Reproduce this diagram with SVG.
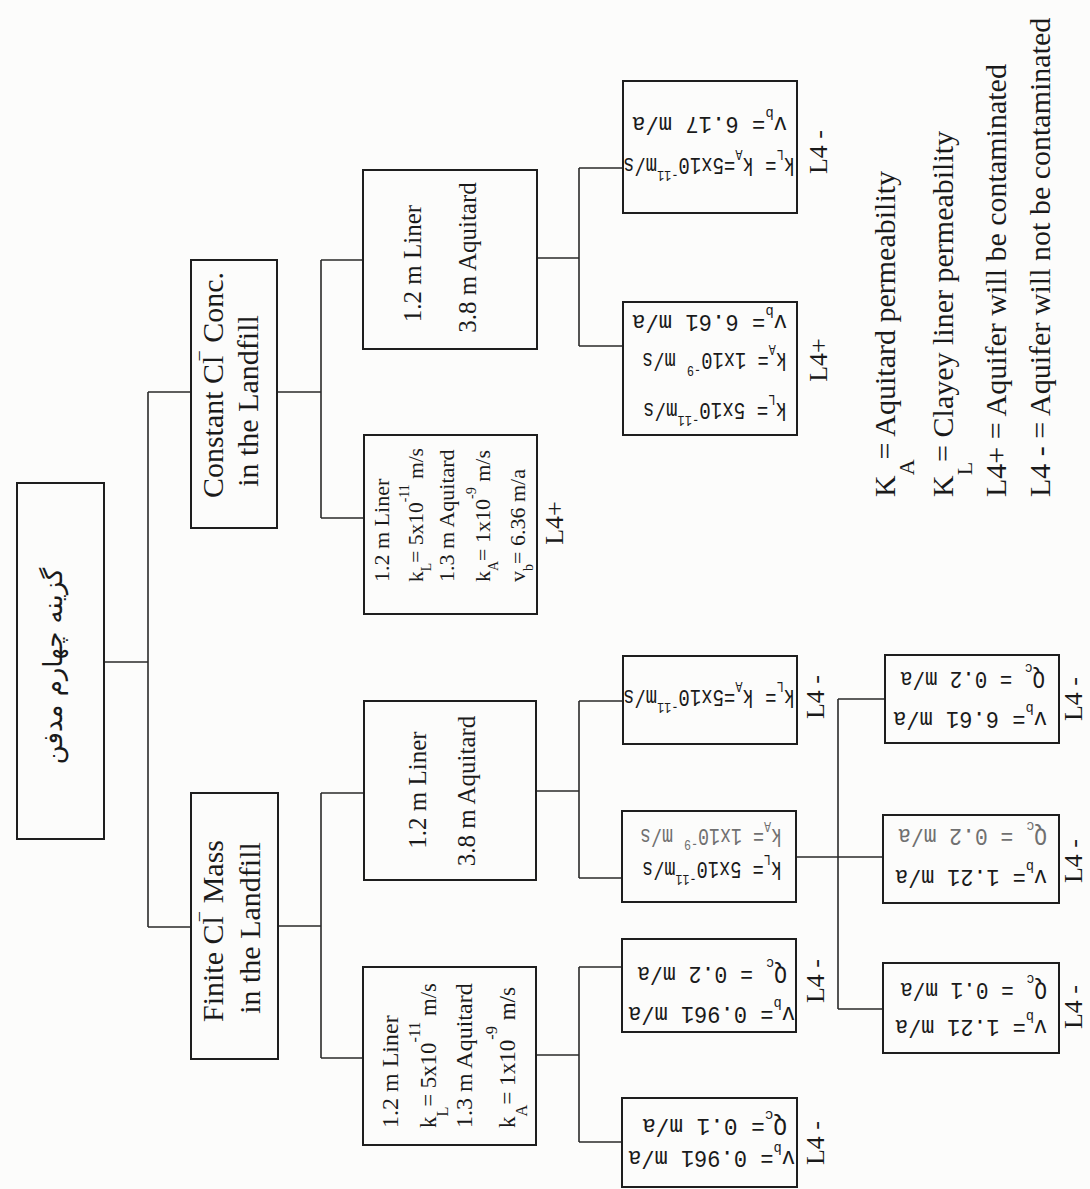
<svg xmlns="http://www.w3.org/2000/svg" width="1090" height="1189" viewBox="0 0 1090 1189">
<style>
.bg{fill:#fcfcfb}
.box{fill:none;stroke:#1e1e1e;stroke-width:2}
.ln{fill:none;stroke:#2a2a2a;stroke-width:1.6}
.t{font-family:"Liberation Serif","DejaVu Serif",serif;fill:#1a1a1a}
.m{font-family:"Liberation Mono","DejaVu Sans Mono",monospace;font-size:24px;fill:#1a1a1a}
.s{font-size:15px}
.f30{font-size:30px}
.f25{font-size:25px}
.f24{font-size:24px}
.f22{font-size:22px}
.lab{font-size:26px}
.fa{font-family:"DejaVu Sans","Noto Sans",sans-serif;font-size:26px;fill:#1a1a1a}
.faint{fill:#707070}
</style>
<rect class="bg" x="0" y="0" width="1090" height="1189"/>

<g id="connectors" class="ln">
<path d="M104 662H148M148 392V927M148 392H191M148 927H191"/>
<path d="M277 392H321M321 260V518M321 260H363M321 518H364"/>
<path d="M537 258H579M579 168V346M579 168H623M579 346H623"/>
<path d="M278 926H321M321 793V1058M321 793H364M321 1058H363"/>
<path d="M536 791H579M579 701V878M579 701H623M579 878H622"/>
<path d="M536 1055H579M579 967V1142M579 967H622M579 1142H622"/>
<path d="M796 857H883M838 699V1009M838 699H885M838 1009H883"/>
</g>

<g id="n-root">
<rect class="box" x="17" y="483" width="87" height="356"/>
<text class="fa" transform="translate(62,666) rotate(-90)" text-anchor="middle">گزینه چهارم مدفن</text>
</g>

<g id="n-constant">
<rect class="box" x="191" y="260" width="86" height="268"/>
<text class="t f30" transform="translate(223,385) rotate(-90)" text-anchor="middle">Constant Cl<tspan font-size="20" dx="-6" dy="-17">−</tspan><tspan dy="17"> Conc.</tspan></text>
<text class="t f30" transform="translate(258,401) rotate(-90)" text-anchor="middle">in the Landfill</text>
</g>

<g id="n-finite">
<rect class="box" x="191" y="793" width="87" height="266"/>
<text class="t f30" transform="translate(223,931) rotate(-90)" text-anchor="middle">Finite Cl<tspan font-size="20" dx="-6" dy="-17">−</tspan><tspan dy="17"> Mass</tspan></text>
<text class="t f30" transform="translate(260,928) rotate(-90)" text-anchor="middle">in the Landfill</text>
</g>

<g id="n-c38">
<rect class="box" x="363" y="170" width="174" height="179"/>
<text class="t f25" transform="translate(421,263.5) rotate(-90)" text-anchor="middle">1.2 m Liner</text>
<text class="t f25" transform="translate(476,257.5) rotate(-90)" text-anchor="middle">3.8 m Aquitard</text>
</g>

<g id="n-c13">
<rect class="box" x="364" y="435" width="173" height="179"/>
<g class="t f22">
<text transform="translate(389,582) rotate(-90)">1.2 m Liner</text>
<text transform="translate(423,582) rotate(-90)" textLength="134" lengthAdjust="spacingAndGlyphs">k<tspan font-size="14" dy="8">L</tspan><tspan dy="-8">= 5x10</tspan><tspan font-size="14" dy="-14">-11</tspan><tspan dy="14"> m/s</tspan></text>
<text transform="translate(454,582) rotate(-90)">1.3 m Aquitard</text>
<text transform="translate(490,582) rotate(-90)" textLength="132" lengthAdjust="spacingAndGlyphs">k<tspan font-size="14" dy="8">A</tspan><tspan dy="-8">= 1x10</tspan><tspan font-size="14" dy="-14">-9</tspan><tspan dy="14"> m/s</tspan></text>
<text transform="translate(525,582) rotate(-90)">v<tspan font-size="14" dy="8">b</tspan><tspan dy="-8">= 6.36 m/a</tspan></text>
</g>
<text class="t lab" transform="translate(563,523) rotate(-90)" text-anchor="middle">L4+</text>
</g>

<g id="n-f38">
<rect class="box" x="364" y="701" width="172" height="179"/>
<text class="t f25" transform="translate(426,790) rotate(-90)" text-anchor="middle">1.2 m Liner</text>
<text class="t f25" transform="translate(475,791) rotate(-90)" text-anchor="middle">3.8 m Aquitard</text>
</g>

<g id="n-f13">
<rect class="box" x="363" y="967" width="173" height="178"/>
<g class="t f24">
<text transform="translate(398,1128) rotate(-90)">1.2 m Liner</text>
<text transform="translate(436,1128) rotate(-90)" textLength="145" lengthAdjust="spacingAndGlyphs">k<tspan font-size="17" dy="12">L</tspan><tspan dy="-12">= 5x10</tspan><tspan font-size="17" dy="-16">-11</tspan><tspan dy="16"> m/s</tspan></text>
<text transform="translate(472,1128) rotate(-90)">1.3 m Aquitard</text>
<text transform="translate(515,1128) rotate(-90)" textLength="141" lengthAdjust="spacingAndGlyphs">k<tspan font-size="17" dy="12">A</tspan><tspan dy="-12">= 1x10</tspan><tspan font-size="17" dy="-18">-9</tspan><tspan dy="18"> m/s</tspan></text>
</g>
</g>

<g id="leaf-c1">
<rect class="box" x="623" y="81" width="174" height="132"/>
<g class="m" transform="translate(710,147) rotate(180)">
<text x="-85" y="-11" textLength="172" lengthAdjust="spacingAndGlyphs">k<tspan class="s" dy="8">L</tspan><tspan dy="-8">= k</tspan><tspan class="s" dy="8">A</tspan><tspan dy="-8">=5x10</tspan><tspan class="s" dy="-13">-11</tspan><tspan dy="13">m/s</tspan></text>
<text x="-77" y="30" textLength="155" lengthAdjust="spacingAndGlyphs">v<tspan class="s" dy="8">b</tspan><tspan dy="-8">= 6.17 m/a</tspan></text>
</g>
<text class="t lab" transform="translate(827,152) rotate(-90)" text-anchor="middle">L4 -</text>
</g>

<g id="leaf-c2">
<rect class="box" x="623" y="302" width="174" height="133"/>
<g class="m" transform="translate(710,368.5) rotate(180)">
<text x="-77" y="-34.5" textLength="144" lengthAdjust="spacingAndGlyphs">k<tspan class="s" dy="8">L</tspan><tspan dy="-8">= 5x10</tspan><tspan class="s" dy="-13">-11</tspan><tspan dy="13">m/s</tspan></text>
<text x="-77" y="15.5" textLength="145" lengthAdjust="spacingAndGlyphs">k<tspan class="s" dy="8">A</tspan><tspan dy="-8">= 1x10</tspan><tspan class="s" dy="-13">-9</tspan><tspan dy="13"> m/s</tspan></text>
<text x="-77" y="53.5" textLength="155" lengthAdjust="spacingAndGlyphs">v<tspan class="s" dy="8">b</tspan><tspan dy="-8">= 6.61 m/a</tspan></text>
</g>
<text class="t lab" transform="translate(827,360) rotate(-90)" text-anchor="middle">L4+</text>
</g>

<g id="leaf-f1">
<rect class="box" x="623" y="656" width="174" height="88"/>
<g class="m" transform="translate(710,700) rotate(180)">
<text x="-85" y="10" textLength="172" lengthAdjust="spacingAndGlyphs">k<tspan class="s" dy="8">L</tspan><tspan dy="-8">= k</tspan><tspan class="s" dy="8">A</tspan><tspan dy="-8">=5x10</tspan><tspan class="s" dy="-13">-11</tspan><tspan dy="13">m/s</tspan></text>
</g>
<text class="t lab" transform="translate(824,697) rotate(-90)" text-anchor="middle">L4 -</text>
</g>

<g id="leaf-f2">
<rect class="box" x="622" y="811" width="174" height="91"/>
<g class="m" transform="translate(709,856.5) rotate(180)">
<text x="-73" y="-5" textLength="140" lengthAdjust="spacingAndGlyphs">k<tspan class="s" dy="7">L</tspan><tspan dy="-7">= 5x10</tspan><tspan class="s" dy="-13">-11</tspan><tspan dy="13">m/s</tspan></text>
<text class="faint" x="-73" y="28" textLength="142" lengthAdjust="spacingAndGlyphs">k<tspan class="s" dy="7">A</tspan><tspan dy="-7">= 1x10</tspan><tspan class="s" dy="-11">-9</tspan><tspan dy="11"> m/s</tspan></text>
</g>
</g>

<g id="leaf-f3">
<rect class="box" x="622" y="939" width="174" height="93"/>
<g class="m" transform="translate(709,985.5) rotate(180)">
<text x="-86" y="-21.5" textLength="167" lengthAdjust="spacingAndGlyphs">v<tspan class="s" dy="8">b</tspan><tspan dy="-8">= 0.961 m/a</tspan></text>
<text x="-78" y="18.5" textLength="150" lengthAdjust="spacingAndGlyphs">Q<tspan class="s" dy="8">c</tspan><tspan dy="-8"> = 0.2 m/a</tspan></text>
</g>
<text class="t lab" transform="translate(824,981) rotate(-90)" text-anchor="middle">L4 -</text>
</g>

<g id="leaf-f4">
<rect class="box" x="622" y="1098" width="175" height="89"/>
<g class="m" transform="translate(709.5,1142.5) rotate(180)">
<text x="-85.5" y="-8" textLength="167" lengthAdjust="spacingAndGlyphs">v<tspan class="s" dy="7">b</tspan><tspan dy="-7">= 0.961 m/a</tspan></text>
<text x="-77.5" y="24" textLength="145" lengthAdjust="spacingAndGlyphs">Q<tspan class="s" dy="8">c</tspan><tspan dy="-8">= 0.1 m/a</tspan></text>
</g>
<text class="t lab" transform="translate(824,1143) rotate(-90)" text-anchor="middle">L4 -</text>
</g>

<g id="leaf-b1">
<rect class="box" x="885" y="655" width="174" height="88"/>
<g class="m" transform="translate(972,699) rotate(180)">
<text x="-75" y="-13" textLength="154" lengthAdjust="spacingAndGlyphs">v<tspan class="s" dy="8">b</tspan><tspan dy="-8">= 6.61 m/a</tspan></text>
<text x="-73" y="27" textLength="145" lengthAdjust="spacingAndGlyphs">Q<tspan class="s" dy="8">c</tspan><tspan dy="-8"> = 0.2 m/a</tspan></text>
</g>
<text class="t lab" transform="translate(1082,699) rotate(-90)" text-anchor="middle">L4 -</text>
</g>

<g id="leaf-b2">
<rect class="box" x="883" y="815" width="176" height="88"/>
<g class="m" transform="translate(971,859) rotate(180)">
<text x="-76" y="-11" textLength="152" lengthAdjust="spacingAndGlyphs">v<tspan class="s" dy="8">b</tspan><tspan dy="-8">= 1.21 m/a</tspan></text>
<text class="faint" x="-76" y="30" textLength="149" lengthAdjust="spacingAndGlyphs">Q<tspan class="s" dy="7">c</tspan><tspan dy="-7"> = 0.2 m/a</tspan></text>
</g>
<text class="t lab" transform="translate(1082,861) rotate(-90)" text-anchor="middle">L4 -</text>
</g>

<g id="leaf-b3">
<rect class="box" x="883" y="963" width="176" height="90"/>
<g class="m" transform="translate(971,1008) rotate(180)">
<text x="-76" y="-12" textLength="152" lengthAdjust="spacingAndGlyphs">v<tspan class="s" dy="8">b</tspan><tspan dy="-8">= 1.21 m/a</tspan></text>
<text x="-76" y="25" textLength="147" lengthAdjust="spacingAndGlyphs">Q<tspan class="s" dy="8">c</tspan><tspan dy="-8"> = 0.1 m/a</tspan></text>
</g>
<text class="t lab" transform="translate(1082,1007) rotate(-90)" text-anchor="middle">L4 -</text>
</g>

<g id="legend" class="t" font-size="30">
<text transform="translate(895,497) rotate(-90)">K<tspan font-size="22" dy="19">A</tspan><tspan dy="-19">= </tspan>Aquitard permeability</text>
<text transform="translate(953,497) rotate(-90)">K<tspan font-size="22" dy="19">L</tspan><tspan dy="-19">= </tspan>Clayey liner permeability</text>
<text transform="translate(1006,497) rotate(-90)">L4+ = Aquifer will be contaminated</text>
<text transform="translate(1050,497) rotate(-90)">L4 - = Aquifer will not be contaminated</text>
</g>
</svg>
